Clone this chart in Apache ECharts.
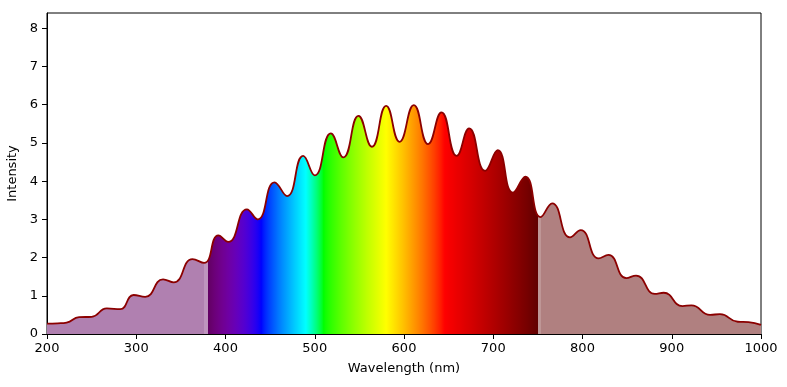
<!DOCTYPE html>
<html><head><meta charset="utf-8">
<script src="https://cdn.jsdelivr.net/npm/echarts@6/dist/echarts.min.js"></script>
<style>html,body{margin:0;padding:0;background:#fff}#c{width:787px;height:387px}</style>
</head><body><div id="c"></div>
<script>
// Wavelength (nm) of each read point
const wavelengths = [200, 212, 222, 236, 250, 267, 282, 297, 310, 330, 342, 363, 376, 392, 403, 424, 436, 455, 469, 487, 500, 518, 532, 549, 564, 580, 595, 611, 627, 642, 659, 673, 691, 705, 722, 736, 753, 766, 786, 798, 818, 829, 849, 860, 881, 891, 912, 922, 943, 954, 974, 986, 1000];
// Intensity read at each wavelength
const intensity = [0.27, 0.28, 0.30, 0.44, 0.45, 0.67, 0.65, 1.02, 0.97, 1.43, 1.35, 1.96, 1.86, 2.58, 2.41, 3.26, 3.00, 3.97, 3.61, 4.66, 4.15, 5.25, 4.62, 5.71, 4.90, 5.97, 5.03, 5.99, 4.97, 5.80, 4.66, 5.38, 4.27, 4.81, 3.70, 4.12, 3.06, 3.42, 2.53, 2.72, 1.98, 2.07, 1.46, 1.53, 1.05, 1.08, 0.73, 0.75, 0.50, 0.52, 0.32, 0.31, 0.24];
const xTicks = [200, 300, 400, 500, 600, 700, 800, 900, 1000];
const yTicks = [0, 1, 2, 3, 4, 5, 6, 7, 8];

const X_MIN = 200, X_MAX = 1000, Y_MAX = 8.4;

function wl2rgb(w) {
  const gamma = 0.8;
  let A = (w >= 380 && w <= 750) ? 1 : 0.5;
  w = Math.min(750, Math.max(380, w));
  let R = 0, G = 0, B = 0;
  if (w <= 440) {
    const att = 0.3 + 0.7 * (w - 380) / 60;
    R = Math.pow((-(w - 440) / 60) * att, gamma); B = Math.pow(att, gamma);
  } else if (w <= 490) {
    G = Math.pow((w - 440) / 50, gamma); B = 1;
  } else if (w <= 510) {
    G = 1; B = Math.pow(-(w - 510) / 20, gamma);
  } else if (w <= 580) {
    R = Math.pow((w - 510) / 70, gamma); G = 1;
  } else if (w <= 645) {
    R = 1; G = Math.pow(-(w - 645) / 65, gamma);
  } else {
    const att = 0.3 + 0.7 * (750 - w) / 105;
    R = Math.pow(att, gamma);
  }
  const mix = c => Math.round(255 * (1 - A) + c * 255 * A);
  return 'rgb(' + mix(R) + ',' + mix(G) + ',' + mix(B) + ')';
}
const off = w => (w - X_MIN) / (X_MAX - X_MIN);
const stops = [];
stops.push({offset: 0, color: wl2rgb(379)});
stops.push({offset: off(376), color: wl2rgb(379)});
stops.push({offset: off(376), color: 'rgb(190,148,190)'});
stops.push({offset: off(380), color: 'rgb(190,148,190)'});
for (let w = 380; w <= 750; w += 2) stops.push({offset: off(w), color: wl2rgb(w)});
stops.push({offset: off(750), color: 'rgb(190,150,150)'});
stops.push({offset: off(753), color: 'rgb(190,150,150)'});
stops.push({offset: off(753), color: wl2rgb(751)});
stops.push({offset: 1, color: wl2rgb(751)});

const seriesData = wavelengths.map((w, i) => [w, intensity[i]]);
const font = 'DejaVu Sans';
const chart = echarts.init(document.getElementById('c'), null, {renderer: 'canvas'});
chart.setOption({
  animation: false,
  backgroundColor: '#fff',
  grid: {left: 47, right: 26, top: 13, bottom: 53, outerBoundsMode: 'none', containLabel: false, show: true, borderColor: '#000', borderWidth: 1, backgroundColor: 'transparent'},
  xAxis: {
    type: 'value', min: X_MIN, max: X_MAX, interval: 100,
    name: 'Wavelength (nm)', nameLocation: 'middle', nameGap: 28,
    nameTextStyle: {fontFamily: font, fontSize: 13, color: '#000'},
    axisLine: {show: true, lineStyle: {color: '#000', width: 1}},
    axisTick: {show: true, length: 5, lineStyle: {color: '#000'}, customValues: xTicks},
    axisLabel: {fontFamily: font, fontSize: 13, color: '#000', margin: 8, customValues: xTicks, formatter: v => String(v)},
    splitLine: {show: false}
  },
  yAxis: {
    type: 'value', min: 0, max: Y_MAX, interval: 1,
    name: 'Intensity', nameLocation: 'middle', nameGap: 27,
    nameTextStyle: {fontFamily: font, fontSize: 13, color: '#000'},
    axisLine: {show: true, lineStyle: {color: '#000', width: 1}},
    axisTick: {show: true, length: 5, lineStyle: {color: '#000'}, customValues: yTicks},
    axisLabel: {fontFamily: font, fontSize: 13, color: '#000', margin: 9, customValues: yTicks, formatter: v => String(v)},
    splitLine: {show: false}
  },
  series: [{
    type: 'line', data: seriesData, showSymbol: false, smooth: 0.5,
    lineStyle: {color: '#8b0000', width: 1.8},
    areaStyle: {opacity: 1, color: new echarts.graphic.LinearGradient(0, 0, 1, 0, stops)}
  }]
});
</script></body></html>
